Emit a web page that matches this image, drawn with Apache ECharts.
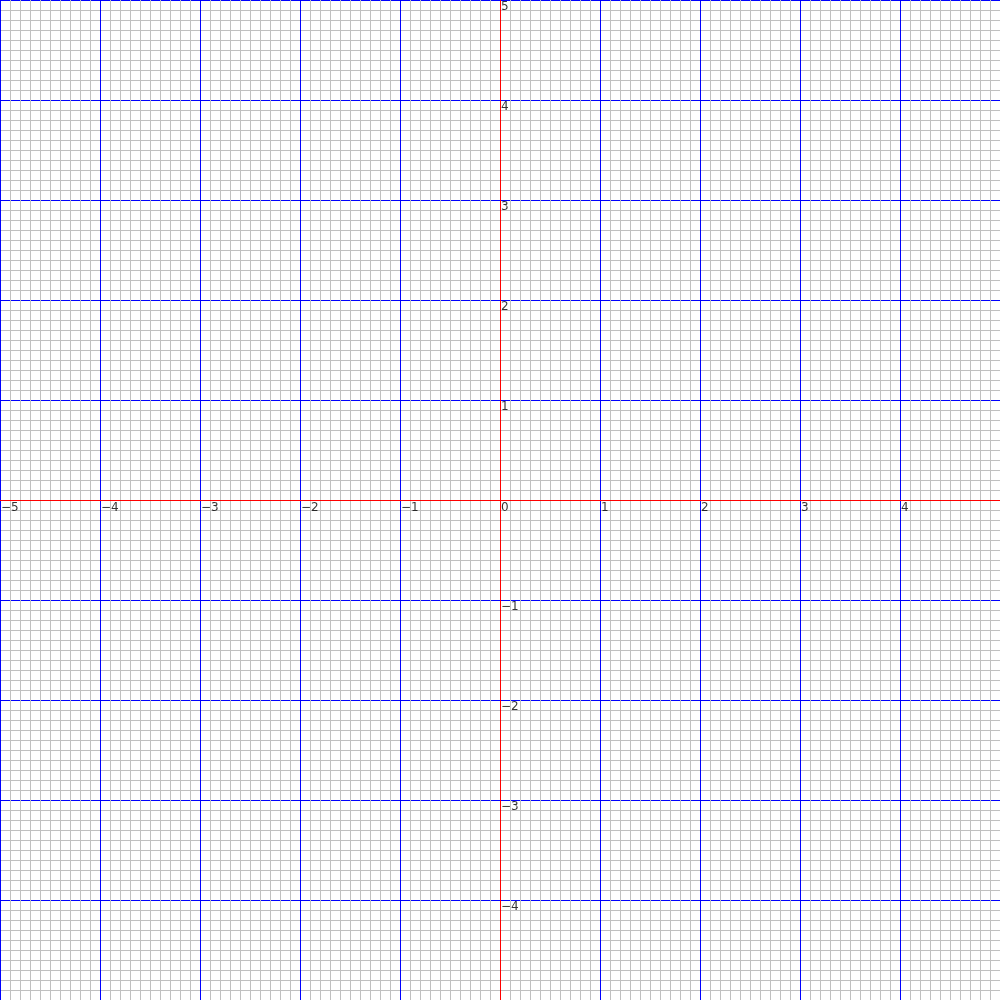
<!DOCTYPE html>
<html>
<head>
<meta charset="utf-8">
<script src="https://cdn.jsdelivr.net/npm/echarts@6/dist/echarts.min.js"></script>
<style>html,body{margin:0;padding:0;background:#fff}#c{width:1000px;height:1000px}</style>
</head>
<body>
<div id="c"></div>
<script>
var xRange = [-5, 5];
var yRange = [-5, 5];
var xTickValues = [-5, -4, -3, -2, -1, 0, 1, 2, 3, 4];
var xTickLabels = ['\u22125', '\u22124', '\u22123', '\u22122', '\u22121', '0', '1', '2', '3', '4'];
var yTickValues = [5, 4, 3, 2, 1, -1, -2, -3, -4];
var yTickLabels = ['5', '4', '3', '2', '1', '\u22121', '\u22122', '\u22123', '\u22124'];

var chart = echarts.init(document.getElementById('c'), null, {renderer: 'canvas'});

var labelStyle = {
  show: true, formatter: function (p) { return p.value[2]; },
  align: 'left', verticalAlign: 'top',
  color: '#000000', fontSize: 12, fontFamily: 'DejaVu Sans'
};
function axisCommon(range) {
  return {
    type: 'value', min: range[0], max: range[1], interval: 1,
    axisLine: {show: true, onZero: true, lineStyle: {color: '#ff0000', width: 1}},
    axisTick: {show: false},
    axisLabel: {show: false},
    minorTick: {show: false, splitNumber: 10},
    minorSplitLine: {show: true, lineStyle: {color: '#c0c0c0', width: 1}},
    splitLine: {show: true, lineStyle: {color: '#0000ff', width: 1}}
  };
}
chart.setOption({
  animation: false,
  backgroundColor: '#ffffff',
  grid: {left: 0, right: 0, top: 0, bottom: 0, containLabel: false, outerBoundsMode: 'none'},
  xAxis: axisCommon(xRange),
  yAxis: axisCommon(yRange),
  series: [
    {
      type: 'scatter', silent: true, symbolSize: 1, itemStyle: {color: 'rgba(0,0,0,0)'},
      data: xTickValues.map(function (v, i) { return [v, 0, xTickLabels[i]]; }),
      label: Object.assign({}, labelStyle, {position: [1.5, 2.5]})
    },
    {
      type: 'scatter', silent: true, symbolSize: 1, itemStyle: {color: 'rgba(0,0,0,0)'},
      data: yTickValues.map(function (v, i) { return [0, v, yTickLabels[i]]; }),
      label: Object.assign({}, labelStyle, {position: [1.5, 1.5]})
    }
  ]
});
</script>
</body>
</html>
